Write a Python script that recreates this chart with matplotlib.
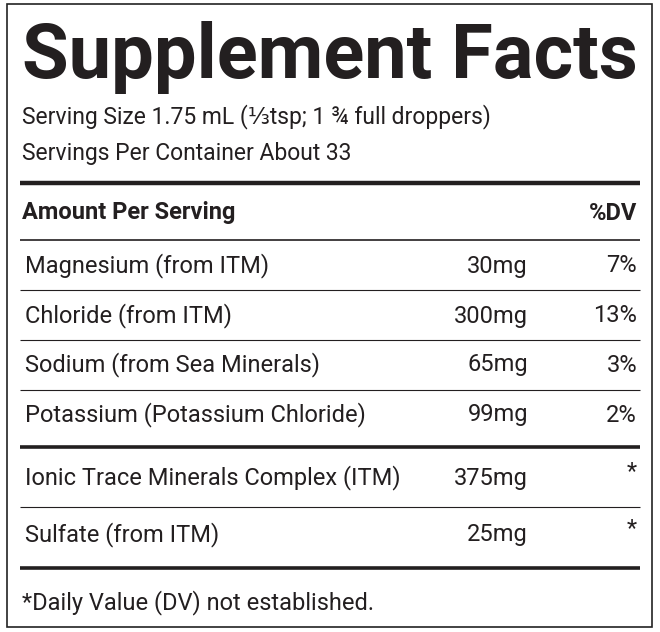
import matplotlib
matplotlib.use("Agg")
import matplotlib.pyplot as plt

title = "Supplement Facts"
serving_lines = ["Serving Size 1.75 mL (⅓tsp; 1 ¾ full droppers)", "Servings Per Container About 33"]
nutrients = ["Magnesium (from ITM)", "Chloride (from ITM)", "Sodium (from Sea Minerals)",
             "Potassium (Potassium Chloride)", "Ionic Trace Minerals Complex (ITM)", "Sulfate (from ITM)"]
amounts = ["30mg", "300mg", "65mg", "99mg", "375mg", "25mg"]
dvs = ["7%", "13%", "3%", "2%", "*", "*"]
footnote = "*Daily Value (DV) not established."

W, H = 660, 632
fig = plt.figure(figsize=(W/100, H/100), dpi=100)
ax = fig.add_axes([0, 0, 1, 1])
ax.set_xlim(0, W); ax.set_ylim(H, 0); ax.axis("off")
fam = ["Roboto", "DejaVu Sans"]

ax.add_patch(plt.Rectangle((7, 4), 645, 623, fill=False, lw=1.2, ec="#222"))
t = ax.text(22, 78, title, fontsize=60, fontweight="bold", family=fam, color="#231f20", va="baseline")
fig.canvas.draw()
bb = t.get_window_extent()
t.set_fontsize(60 * 616 / bb.width)

ax.text(22, 123, serving_lines[0], fontsize=16.5, family=fam, color="#231f20", va="baseline")
ax.text(22, 160, serving_lines[1], fontsize=16.5, family=fam, color="#231f20", va="baseline")

def hl(y, lw):
    ax.plot([20, 640], [y, y], color="#231f20", lw=lw, solid_capstyle="butt")

hl(183, 3.2)
ax.text(22, 213, "Amount Per Serving", fontsize=17, fontweight="bold", family=fam, color="#231f20", va="center")
ax.text(637, 213, "%DV", fontsize=17, fontweight="bold", family=fam, color="#231f20", va="center", ha="right")
hl(240, 1.2)
ys = [266, 316, 365, 415, 478, 535]
for i, (n, a, d) in enumerate(zip(nutrients, amounts, dvs)):
    y = ys[i]
    ax.text(25, y, n, fontsize=17, family=fam, color="#231f20", va="center")
    ax.text(528, y, a, fontsize=17, family=fam, color="#231f20", va="center", ha="right")
    ax.text(637, y - (6 if d == "*" else 0), d, fontsize=17, family=fam, color="#231f20", va="center", ha="right")
for y in [290, 340, 390, 507]:
    hl(y, 0.8)
hl(447, 2.6)
hl(568, 2.6)
ax.text(22, 603, footnote, fontsize=17, family=fam, color="#231f20", va="center")
fig.savefig("out.png", dpi=100)
